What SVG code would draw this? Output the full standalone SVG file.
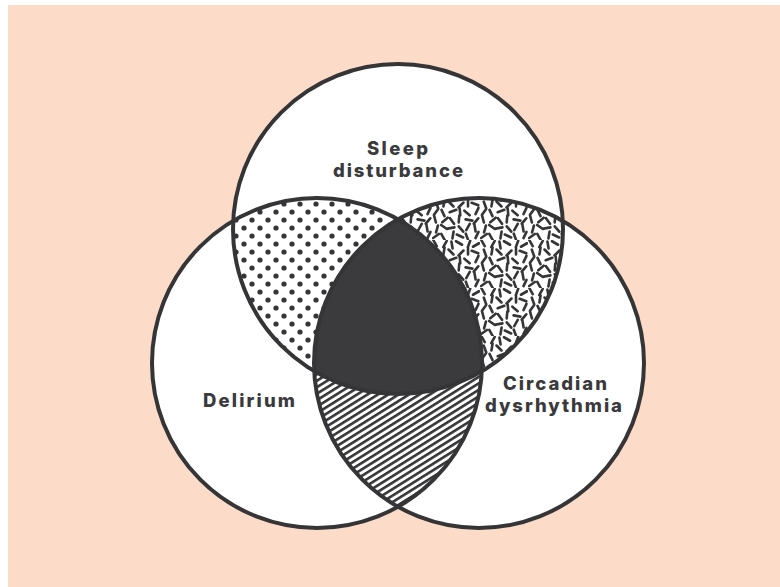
<svg xmlns="http://www.w3.org/2000/svg" width="780" height="587" viewBox="0 0 780 587">
<style>
.ring{fill:none;stroke:#353537;stroke-width:4}
.lbl{font-family:Inter,"Liberation Sans",sans-serif;font-weight:800;font-size:18.5px;fill:#3a3a3c}
</style>
<defs>
<clipPath id="clipT"><circle cx="398" cy="229" r="165"/></clipPath>
<clipPath id="clipL"><circle cx="317" cy="363" r="165"/></clipPath>
<pattern id="dots" width="16" height="16" patternUnits="userSpaceOnUse">
<rect width="16" height="16" fill="#fff"/>
<circle cx="4" cy="4" r="2.6" fill="#353537"/>
<circle cx="12" cy="12" r="2.6" fill="#353537"/>
</pattern>
<pattern id="hatch" width="5.5" height="5.5" patternUnits="userSpaceOnUse" patternTransform="rotate(-32)">
<rect width="5.5" height="5.5" fill="#fff"/>
<rect width="5.5" height="2.6" fill="#353537"/>
</pattern>
<pattern id="rice" width="48" height="48" patternUnits="userSpaceOnUse">
<rect width="48" height="48" fill="#fff"/>
<path fill="none" stroke="#353537" stroke-width="2.6" stroke-linecap="round" d="M1.25,-0.03 l3.5,6.06 M14.75,0.97 l-3.5,6.06 M19.39,1.55 l1.22,6.9 M23.97,1.25 l6.06,3.5 M38.2,0.71 l-2.4,6.58 M47.03,3.25 l-6.06,3.5 M3.8,9.71 l2.4,6.58 M12.61,7.55 l-1.22,6.9 M16.53,9.53 l4.94,4.94 M31.47,10.53 l-4.94,4.94 M36,7.5 l0,7 M39.71,10.8 l6.58,2.4 M6.01,17.13 l-4.02,5.74 M9.52,17.83 l2.96,6.34 M24.29,17.8 l-6.58,2.4 M27.69,16.51 l0.62,6.98 M32.32,18.75 l5.36,4.5 M46.48,15.83 l-2.96,6.34 M2.09,23.62 l1.82,6.76 M15.68,25.75 l-5.36,4.5 M17.99,26.13 l4.02,5.74 M27.31,23.51 l-0.62,6.98 M33.55,27.39 l6.9,1.22 M46.25,26.32 l-4.5,5.36 M5.91,33.62 l-1.82,6.76 M9.13,32.99 l5.74,4.02 M22.45,35.39 l-6.9,1.22 M26.75,34.32 l4.5,5.36 M37.75,31.97 l-3.5,6.06 M42.39,32.55 l1.22,6.9 M6.87,41.99 l-5.74,4.02 M9.25,41.97 l3.5,6.06 M21.61,39.55 l-1.22,6.9 M24.83,42.52 l6.34,2.96 M33.8,41.71 l2.4,6.58 M46.48,39.83 l-2.96,6.34"/>
</pattern>
</defs>
<rect width="780" height="587" fill="#ffffff"/>
<rect x="8" y="5" width="772" height="582" fill="#fcdcc8"/>
<g id="regions">
<circle cx="398" cy="229" r="165" fill="#fff"/>
<circle cx="317" cy="363" r="165" fill="#fff"/>
<circle cx="479" cy="363" r="165" fill="#fff"/>
<circle cx="317" cy="363" r="165" fill="url(#dots)" clip-path="url(#clipT)"/>
<circle cx="479" cy="363" r="165" fill="url(#rice)" clip-path="url(#clipT)"/>
<circle cx="479" cy="363" r="165" fill="url(#hatch)" clip-path="url(#clipL)"/>
<g clip-path="url(#clipL)"><circle cx="479" cy="363" r="165" fill="#3b3b3d" clip-path="url(#clipT)"/></g>
</g>
<g id="sleep">
<circle class="ring" cx="398" cy="229" r="165"/>
<text class="lbl" x="367" y="154.5" textLength="61" lengthAdjust="spacing">Sleep</text>
<text class="lbl" x="333" y="176.5" textLength="130" lengthAdjust="spacing">disturbance</text>
</g>
<g id="delirium">
<circle class="ring" cx="317" cy="363" r="165"/>
<text class="lbl" x="203" y="407" textLength="92" lengthAdjust="spacing">Delirium</text>
</g>
<g id="circadian">
<circle class="ring" cx="479" cy="363" r="165"/>
<text class="lbl" x="503" y="389.5" textLength="104" lengthAdjust="spacing">Circadian</text>
<text class="lbl" x="485" y="411.5" textLength="137" lengthAdjust="spacing">dysrhythmia</text>
</g>
</svg>
